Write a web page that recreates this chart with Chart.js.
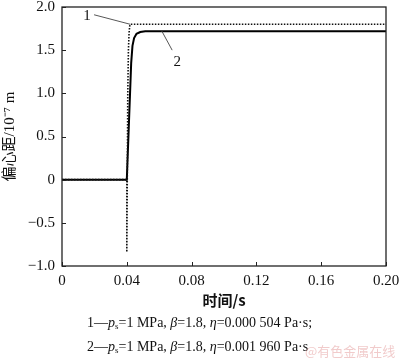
<!DOCTYPE html>
<html>
<head>
<meta charset="utf-8">
<script src="https://cdn.jsdelivr.net/npm/chart.js@4"></script>
<style>
html,body{margin:0;padding:0;background:#fff;}
#wrap{position:relative;width:400px;height:360px;}
canvas{position:absolute;left:0;top:0;}
.cap{position:absolute;left:87px;font-family:'Liberation Serif',serif;font-size:14px;color:#111;white-space:nowrap;line-height:16px;}
.cap sub{font-size:9px;vertical-align:-2px;line-height:0;}
.wm{position:absolute;left:305px;top:341px;font-family:'Noto Sans CJK SC',sans-serif;font-size:13px;color:rgba(225,140,140,0.45);white-space:nowrap;}
</style>
</head>
<body>
<div id="wrap">
<canvas id="c" width="400" height="360"></canvas>
<div class="cap" style="top:315px">1—<i>p</i><sub>s</sub>=1 MPa, <i>β</i>=1.8, <i>η</i>=0.000 504 Pa·s;</div>
<div class="cap" style="top:339px">2—<i>p</i><sub>s</sub>=1 MPa, <i>β</i>=1.8, <i>η</i>=0.001 960 Pa·s</div>
<div class="wm">@有色金属在线</div>
</div>
<script>
// Series 1 (dotted): eta = 0.000 504 Pa·s
const t1 = [0, 0.04, 0.04, 0.0404, 0.0406, 0.0410, 0.0414, 0.0418, 0.0421, 0.10, 0.20];
const y1 = [0, 0, -0.84, 0.30, 1.00, 1.50, 1.70, 1.78, 1.80, 1.80, 1.80];
// Series 2 (solid): eta = 0.001 960 Pa·s
const t2 = [0, 0.04, 0.0427, 0.0435, 0.0445, 0.0460, 0.0483, 0.0514, 0.10, 0.20];
const y2 = [0, 0, 1.35, 1.55, 1.64, 1.69, 1.71, 1.72, 1.72, 1.72];
// Tick labels
const xTicks = [0, 0.04, 0.08, 0.12, 0.16, 0.20];
const yTicks = [-1.0, -0.5, 0, 0.5, 1.0, 1.5, 2.0];
// Curve labels: [text, labelX, labelY, leaderFromX, leaderFromY, leaderToX, leaderToY]
const curveLabels = [
  ['1', 0.0155, 1.90, 0.0198, 1.91, 0.0421, 1.80],
  ['2', 0.0712, 1.36, 0.0615, 1.725, 0.0680, 1.50]
];

const serif = "'Liberation Serif', 'Noto Sans CJK SC', serif";
const toPts = (xs, ys) => xs.map((x, i) => ({x: x, y: ys[i]}));

const decor = {
  id: 'decor',
  afterDraw(chart) {
    const ctx = chart.ctx, a = chart.chartArea;
    const xs = chart.scales.x, ys = chart.scales.y;
    ctx.save();
    ctx.strokeStyle = '#222';
    ctx.lineWidth = 1.3;
    ctx.strokeRect(a.left, a.top, a.right - a.left, a.bottom - a.top);
    ctx.lineWidth = 1;
    ctx.beginPath();
    xTicks.forEach(v => {
      const px = Math.round(xs.getPixelForValue(v)) + 0.5;
      ctx.moveTo(px, a.bottom); ctx.lineTo(px, a.bottom - 4);
    });
    yTicks.forEach(v => {
      const py = Math.round(ys.getPixelForValue(v)) + 0.5;
      ctx.moveTo(a.left, py); ctx.lineTo(a.left + 4, py);
    });
    ctx.stroke();
    ctx.strokeStyle = '#444';
    ctx.lineWidth = 0.9;
    ctx.fillStyle = '#111';
    ctx.font = "15px " + serif;
    ctx.textAlign = 'center';
    ctx.textBaseline = 'middle';
    curveLabels.forEach(l => {
      ctx.beginPath();
      ctx.moveTo(xs.getPixelForValue(l[3]), ys.getPixelForValue(l[4]));
      ctx.lineTo(xs.getPixelForValue(l[5]), ys.getPixelForValue(l[6]));
      ctx.stroke();
      ctx.fillText(l[0], xs.getPixelForValue(l[1]), ys.getPixelForValue(l[2]));
    });
    ctx.restore();
  }
};

new Chart(document.getElementById('c'), {
  type: 'line',
  data: {
    datasets: [
      {
        label: '1',
        data: toPts(t1, y1),
        borderColor: '#111',
        borderWidth: 1.6,
        borderDash: [1.5, 1.5],
        pointRadius: 0,
        tension: 0,
        fill: false
      },
      {
        label: '2',
        data: toPts(t2, y2),
        borderColor: '#000',
        borderWidth: 2,
        pointRadius: 0,
        tension: 0,
        fill: false
      }
    ]
  },
  options: {
    responsive: false,
    animation: false,
    events: [],
    layout: {padding: {top: 7, right: 14, left: 0, bottom: 0}},
    plugins: {legend: {display: false}, tooltip: {enabled: false}},
    scales: {
      x: {
        type: 'linear',
        min: 0, max: 0.2,
        afterBuildTicks: s => { s.ticks = xTicks.map(v => ({value: v})); },
        afterFit: s => { s.height = 94; s.paddingLeft = 0; s.paddingRight = 0; },
        grid: {display: false, drawTicks: false},
        border: {display: false},
        ticks: {
          padding: 6,
          color: '#111',
          font: {family: serif, size: 15},
          maxRotation: 0,
          callback: v => v === 0 ? '0' : v.toFixed(2)
        },
        title: {
          display: true,
          text: '时间/s',
          color: '#111',
          font: {family: "'Noto Sans CJK SC', sans-serif", size: 15, weight: 'bold'},
          padding: {top: 0, bottom: 51}
        }
      },
      y: {
        type: 'linear',
        min: -1, max: 2,
        afterBuildTicks: s => { s.ticks = yTicks.map(v => ({value: v})); },
        afterFit: s => { s.width = 62; s.paddingTop = 0; s.paddingBottom = 0; },
        grid: {display: false, drawTicks: false},
        border: {display: false},
        ticks: {
          padding: 7,
          color: '#111',
          font: {family: serif, size: 15},
          callback: v => v === 0 ? '0' : v.toFixed(1).replace('-', '\u2212')
        },
        title: {
          display: true,
          text: '偏心距/10\u207B\u2077 m',
          color: '#111',
          font: {family: serif, size: 15},
          padding: {top: 1, bottom: 0}
        }
      }
    }
  },
  plugins: [decor]
});
</script>
</body>
</html>
